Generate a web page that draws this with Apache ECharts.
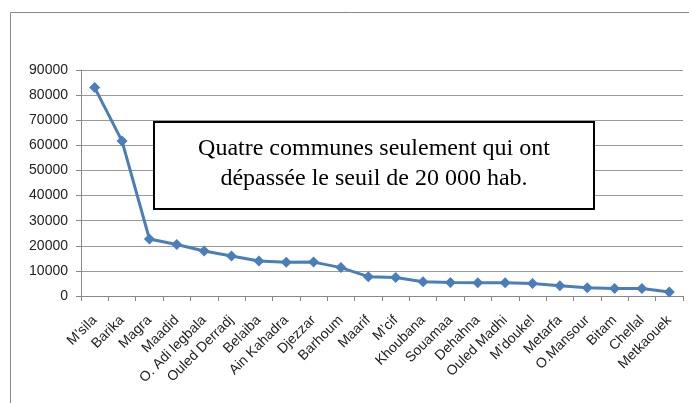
<!DOCTYPE html>
<html>
<head>
<meta charset="utf-8">
<script src="https://cdn.jsdelivr.net/npm/echarts@6/dist/echarts.min.js"></script>
<style>
  html, body { margin: 0; padding: 0; background: #fff; }
  #chart { width: 689px; height: 403px; }
</style>
</head>
<body>
<div id="chart"></div>
<script>
// communes et population
const communes = ["M\u2019sila", "Barika", "Magra", "Maadid", "O. Adi legbala", "Ouled Derradj",
  "Belaiba", "Ain Kahadra", "Djezzar", "Barhoum", "Maarif", "M\u2019cif", "Khoubana", "Souamaa",
  "Dehahna", "Ouled Madhi", "M\u2019doukel", "Metarfa", "O.Mansour", "Bitam", "Chellal", "Metkaouek"];
const population = [83000, 61700, 22700, 20500, 17900, 15900, 13900, 13400, 13500, 11300,
  7700, 7400, 5700, 5400, 5300, 5300, 5000, 4100, 3300, 3000, 3000, 1600];
const yTicks = [0, 90000, 10000]; // min, max, interval
const noteLines = ["Quatre communes seulement qui ont", "dépassée le seuil de 20 000 hab."];

let chart = echarts.init(document.getElementById('chart'));
let option = {
  animation: false,
  grid: { left: 81, right: 6, top: 70, bottom: 107 },
  xAxis: {
    type: 'category',
    data: communes,
    boundaryGap: true,
    axisLine: { lineStyle: { color: '#888', width: 1 } },
    axisTick: { show: true, length: 5, lineStyle: { color: '#888' } },
    axisLabel: {
      rotate: 45, interval: 0, color: '#222', fontSize: 14,
      fontFamily: 'Liberation Sans', margin: 22
    }
  },
  yAxis: {
    type: 'value',
    min: yTicks[0], max: yTicks[1], interval: yTicks[2],
    axisLine: { show: true, lineStyle: { color: '#888', width: 1 } },
    axisTick: { show: true, length: 5, lineStyle: { color: '#888' } },
    axisLabel: {
      color: '#222', fontSize: 14, fontFamily: 'Liberation Sans', margin: 13,
      formatter: v => String(v)
    },
    splitLine: { lineStyle: { color: '#999', width: 1 } }
  },
  series: [{
    type: 'line',
    data: population,
    symbol: 'diamond',
    symbolSize: 11,
    lineStyle: { color: '#4a7ebb', width: 3 },
    itemStyle: { color: '#4a7ebb' }
  }],
  graphic: [
    {
      type: 'rect', silent: true,
      shape: { x: 10.5, y: 12.5, width: 700, height: 420 },
      style: { fill: 'none', stroke: '#888', lineWidth: 1 }
    },
    {
      type: 'group', left: 153, top: 121, z: 100,
      children: [
        {
          type: 'rect', z: 100,
          shape: { x: 0, y: 0, width: 440, height: 87 },
          style: { fill: '#fff', stroke: '#000', lineWidth: 2 }
        },
        {
          type: 'text', x: 220, y: 27, z: 101,
          style: {
            text: noteLines[0], fill: '#000', font: '24px "Liberation Serif"',
            align: 'center', verticalAlign: 'middle'
          }
        },
        {
          type: 'text', x: 220, y: 57, z: 101,
          style: {
            text: noteLines[1], fill: '#000', font: '24px "Liberation Serif"',
            align: 'center', verticalAlign: 'middle'
          }
        }
      ]
    }
  ]
};
chart.setOption(option);
</script>
</body>
</html>
